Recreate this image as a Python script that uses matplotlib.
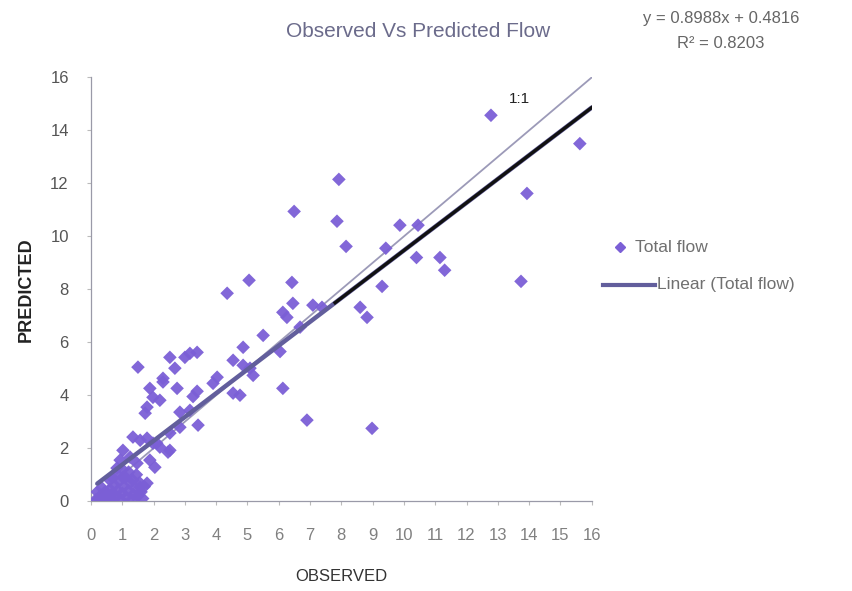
import numpy as np
import matplotlib.pyplot as plt
from matplotlib.lines import Line2D

plt.rcParams['font.family'] = ['Liberation Sans', 'DejaVu Sans']

# Total flow: observed vs predicted
observed = [
    12.78, 15.62, 13.93, 13.74, 7.92, 6.49, 7.86, 8.15, 9.87, 10.45,
    9.42, 10.40, 11.15, 11.30, 9.30, 6.42, 6.45, 6.13, 6.26, 7.09,
    7.38, 8.60, 8.82, 6.04, 6.13, 6.90, 8.98, 6.68, 5.50, 4.86,
    4.35, 5.05, 3.00, 3.16, 3.39, 2.52, 2.68, 1.50, 4.54, 4.86,
    5.08, 5.18, 4.03, 3.90, 3.39, 4.54, 4.76, 3.16, 3.42, 2.84,
    2.52, 2.52, 2.10, 1.88, 2.30, 2.75, 1.98, 1.79, 1.73, 2.20,
    3.26, 1.34, 1.57, 1.79, 1.98, 2.20, 2.46, 1.02, 0.93, 0.83,
    1.25, 1.47, 1.88, 2.04, 0.67, 1.02, 1.34, 1.57, 1.79, 2.30,
    2.84,
    0.15, 0.25, 0.30, 0.40, 0.45, 0.50, 0.55, 0.60, 0.65, 0.70,
    0.75, 0.80, 0.85, 0.90, 0.95, 1.00, 1.05, 1.10, 1.12, 1.20,
    1.25, 1.30, 1.35, 1.40, 1.45, 1.50, 1.55, 1.60, 1.65, 0.35,
    0.60, 0.80, 1.00, 1.20, 0.20, 1.70,
]
predicted = [
    14.57, 13.50, 11.62, 8.30, 12.15, 10.94, 10.57, 9.62, 10.42, 10.42,
    9.55, 9.20, 9.20, 8.72, 8.11, 8.26, 7.47, 7.13, 6.94, 7.40,
    7.32, 7.32, 6.94, 5.65, 4.26, 3.06, 2.75, 6.57, 6.26, 5.81,
    7.85, 8.34, 5.43, 5.58, 5.62, 5.43, 5.02, 5.06, 5.32, 5.13,
    5.02, 4.75, 4.68, 4.45, 4.15, 4.08, 4.00, 3.43, 2.87, 2.79,
    2.57, 1.92, 2.19, 4.26, 4.50, 4.26, 3.92, 3.55, 3.32, 3.81,
    3.95, 2.42, 2.30, 2.38, 2.19, 2.04, 1.85, 1.92, 1.55, 1.25,
    1.66, 1.43, 1.55, 1.28, 0.90, 0.90, 0.79, 0.53, 0.68, 4.64,
    3.36,
    0.05, 0.10, 0.20, 0.15, 0.35, 0.05, 0.25, 0.45, 0.10, 0.30,
    0.60, 0.15, 0.40, 0.75, 0.05, 0.30, 0.55, 0.90, 0.15, 0.40,
    0.70, 0.05, 0.25, 0.50, 1.00, 0.20, 0.70, 0.35, 0.10, 0.50,
    0.80, 1.05, 1.20, 1.10, 0.35, 0.55,
]

slope = 0.8988
intercept = 0.4816
r2 = 0.8203

fig = plt.figure(figsize=(8.53, 5.91), dpi=100)
ax = fig.add_axes([0.1067, 0.152, 0.587, 0.717])

point_color = "#7b5fd6"
line_color = "#625e9c"
ax.scatter(observed, predicted, marker="D", s=48, color=point_color,
           edgecolors="none", alpha=0.95, zorder=3)

# 1:1 line
ax.plot([0, 16], [0, 16], color="#9c9ab8", lw=1.3, zorder=2)

# linear trendline
xfit = np.array([0.2, 16.0])
ax.plot(xfit, slope * xfit + intercept, color=line_color, lw=3.2, zorder=4,
        solid_capstyle="round")
xdark = np.array([7.8, 16.0])
ax.plot(xdark, slope * xdark + intercept, color="#111111", lw=2.4, zorder=5)

ax.text(13.7, 15.2, "1:1", fontsize=11, color="#222222", ha="center", va="center")

ax.set_xlim(0, 16)
ax.set_ylim(0, 16)
ax.set_xticks(range(0, 17))
ax.set_yticks(range(0, 17, 2))
ax.tick_params(axis="x", colors="#bbbbbb", labelcolor="#808080", labelsize=12,
               length=3, pad=16)
ax.tick_params(axis="y", colors="#bbbbbb", labelcolor="#555555", labelsize=12,
               length=3, pad=13)
for side in ["top", "right"]:
    ax.spines[side].set_visible(False)
for side in ["left", "bottom"]:
    ax.spines[side].set_color("#9a9aa8")
    ax.spines[side].set_linewidth(0.9)

ax.set_xlabel("OBSERVED", fontsize=12, color="#333333", labelpad=19)
ax.set_ylabel("PREDICTED", fontsize=13, color="#222222", fontweight="bold",
              labelpad=11)

fig.text(0.49, 0.947, "Observed Vs Predicted Flow", fontsize=15,
         color="#6b6b8b", ha="center", va="center")
fig.text(0.845, 0.968, f"y = {slope}x + {intercept}", fontsize=12,
         color="#666666", ha="center", va="center")
fig.text(0.845, 0.926, f"R² = {r2}", fontsize=12,
         color="#666666", ha="center", va="center")

# legend entries
fig.add_artist(Line2D([0.727], [0.582], marker="D", linestyle="none",
                      color=point_color, markersize=5.5,
                      transform=fig.transFigure))
fig.text(0.744, 0.582, "Total flow", fontsize=12.5, color="#707070",
         ha="left", va="center")
fig.add_artist(Line2D([0.707, 0.768], [0.518, 0.518], color=line_color, lw=3,
                      transform=fig.transFigure))
fig.text(0.770, 0.518, "Linear (Total flow)", fontsize=12.5, color="#707070",
         ha="left", va="center")

fig.savefig("out.png", dpi=100, facecolor="white")
